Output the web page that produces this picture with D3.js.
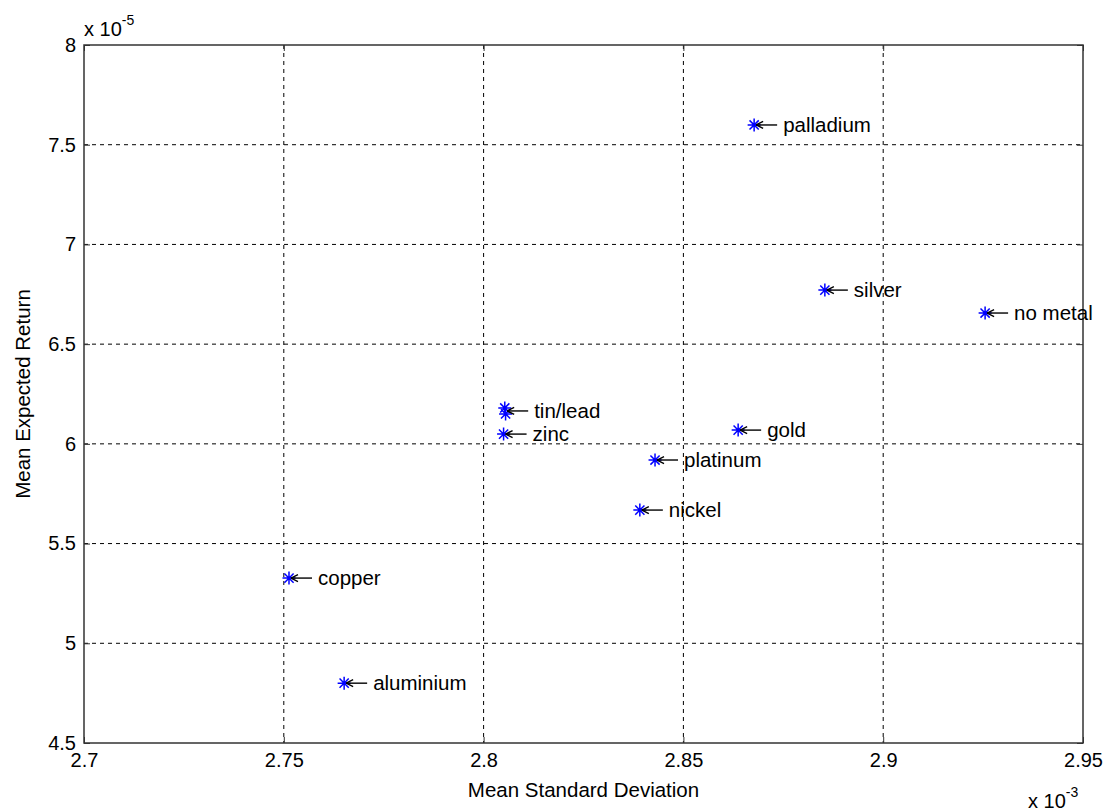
<!DOCTYPE html>
<html><head><meta charset="utf-8">
<script src="https://cdn.jsdelivr.net/npm/d3@7"></script>
<style>
body{margin:0;background:#fff;}
text{font-family:"Liberation Sans",Arial,sans-serif;}
</style></head>
<body>
<svg id="c" width="1109" height="811"></svg>
<script>
// data (x in 1e-3, y in 1e-5)
const names = ["palladium","silver","no metal","tin","lead","zinc","gold","platinum","nickel","copper","aluminium"];
const stdDev = [2.8677,2.8854,2.9255,2.8053,2.8055,2.8050,2.8637,2.8429,2.8391,2.7513,2.7651];
const expRet = [7.599,6.771,6.656,6.180,6.150,6.049,6.069,5.919,5.668,5.327,4.800];
const labels = [
  {text:"palladium", idx:[0]},
  {text:"silver", idx:[1]},
  {text:"no metal", idx:[2]},
  {text:"tin/lead", idx:[3,4]},
  {text:"zinc", idx:[5]},
  {text:"gold", idx:[6]},
  {text:"platinum", idx:[7]},
  {text:"nickel", idx:[8]},
  {text:"copper", idx:[9]},
  {text:"aluminium", idx:[10]}
];
const xTicks = [2.7,2.75,2.8,2.85,2.9,2.95];
const yTicks = [4.5,5,5.5,6,6.5,7,7.5,8];

const svg = d3.select("#c");
const L=84, R=1083, T=45, B=743;
const x = d3.scaleLinear().domain([2.7,2.95]).range([L,R]);
const y = d3.scaleLinear().domain([4.5,8]).range([B,T]);

// grid
const g = svg.append("g");
g.selectAll(".vx").data(xTicks.slice(1,-1)).enter().append("line")
  .attr("x1",d=>x(d)).attr("x2",d=>x(d)).attr("y1",T).attr("y2",B)
  .attr("stroke","#000").attr("stroke-width",1).attr("stroke-dasharray","4,4");
g.selectAll(".hy").data(yTicks.slice(1,-1)).enter().append("line")
  .attr("y1",d=>y(d)).attr("y2",d=>y(d)).attr("x1",L).attr("x2",R)
  .attr("stroke","#000").attr("stroke-width",1).attr("stroke-dasharray","4,4");

// axes
const fmt = d=>String(d);
const xa = svg.append("g").attr("transform",`translate(0,${B})`)
  .call(d3.axisBottom(x).tickValues(xTicks).tickFormat(fmt).tickSizeInner(-6).tickSizeOuter(0).tickPadding(10));
const ya = svg.append("g").attr("transform",`translate(${L},0)`)
  .call(d3.axisLeft(y).tickValues(yTicks).tickFormat(fmt).tickSizeInner(-6).tickSizeOuter(0).tickPadding(8));
svg.append("g").attr("transform",`translate(0,${T})`)
  .call(d3.axisTop(x).tickValues(xTicks).tickFormat("").tickSizeInner(-6).tickSizeOuter(0));
svg.append("g").attr("transform",`translate(${R},0)`)
  .call(d3.axisRight(y).tickValues(yTicks).tickFormat("").tickSizeInner(-6).tickSizeOuter(0));
svg.selectAll(".domain").remove();
svg.selectAll(".tick line").attr("stroke","#333");
svg.selectAll(".tick text").attr("font-size",20).attr("fill","#000").style("font-family","'Liberation Sans',Arial,sans-serif");

svg.append("rect").attr("x",L).attr("y",T).attr("width",R-L).attr("height",B-T)
  .attr("fill","none").attr("stroke","#333").attr("stroke-width",1.5);

// exponents
const e1 = svg.append("text").attr("x",L).attr("y",36).attr("font-size",20);
e1.append("tspan").text("x 10");
e1.append("tspan").attr("dy",-11).attr("font-size",14).text("-5");
const e2 = svg.append("text").attr("x",1028).attr("y",808).attr("font-size",20);
e2.append("tspan").text("x 10");
e2.append("tspan").attr("dy",-11).attr("font-size",14).text("-3");

// axis labels
svg.append("text").attr("x",(L+R)/2).attr("y",797).attr("text-anchor","middle").attr("font-size",20.5).text("Mean Standard Deviation");
svg.append("text").attr("transform",`translate(30,${(T+B)/2}) rotate(-90)`).attr("text-anchor","middle").attr("font-size",20.5).text("Mean Expected Return");

// markers
const pts = names.map((n,i)=>({n,x:stdDev[i],y:expRet[i]}));
const m = svg.append("g").selectAll("g").data(pts).enter().append("g")
  .attr("transform",d=>`translate(${x(d.x)},${y(d.y)})`);
const s=6.5, s2=4.6;
m.append("path").attr("d",`M${-s},0H${s}M0,${-s}V${s}M${-s2},${-s2}L${s2},${s2}M${-s2},${s2}L${s2},${-s2}`)
  .attr("stroke","#0000ff").attr("stroke-width",1.5).attr("fill","none");

// annotations
const ag = svg.append("g");
labels.forEach(l=>{
  const px = d3.mean(l.idx,i=>x(stdDev[i]));
  const py = d3.mean(l.idx,i=>y(expRet[i]));
  ag.append("line").attr("x1",px+2).attr("y1",py).attr("x2",px+23).attr("y2",py)
    .attr("stroke","#000").attr("stroke-width",1.4);
  ag.append("path").attr("d",`M${px+2},${py}L${px+9},${py-3.5}M${px+2},${py}L${px+9},${py+3.5}`)
    .attr("stroke","#000").attr("stroke-width",1.4).attr("fill","none");
  ag.append("text").attr("x",px+29).attr("y",py+7).attr("font-size",20.5).text(l.text);
});
</script>
</body></html>
